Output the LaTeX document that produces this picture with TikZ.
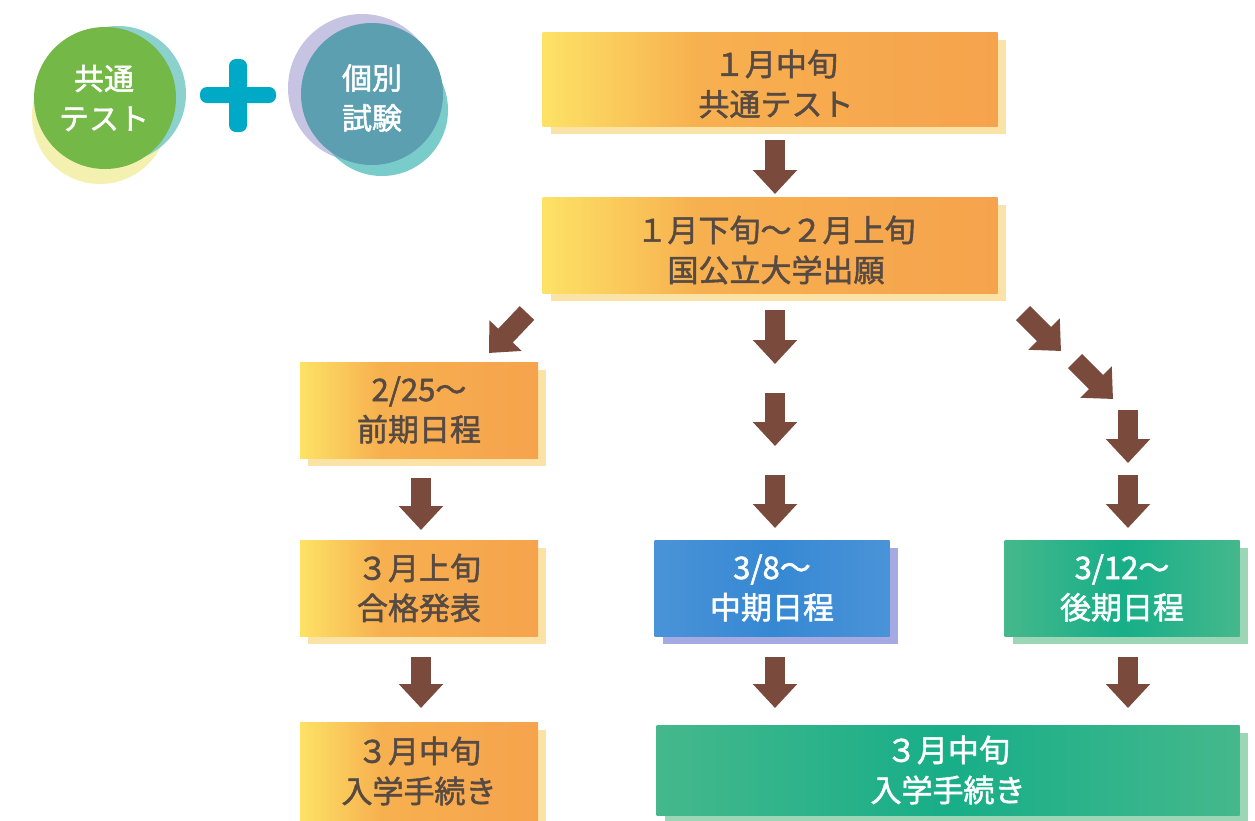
\documentclass[tikz,border=0pt]{standalone}
\usepackage{fontspec}
\setmainfont{Noto Sans CJK JP}
\newfontfamily\jpm{Noto Sans CJK JP}[FakeBold=1.6]
\usetikzlibrary{arrows.meta,shadows}
\definecolor{txtdark}{HTML}{574A42}
\definecolor{oy}{HTML}{FDE266}
\definecolor{om}{HTML}{F7B04F}
\definecolor{oo}{HTML}{F6A34D}
\definecolor{osh}{HTML}{FBE2A6}
\definecolor{bl}{HTML}{3688D3}
\definecolor{bll}{HTML}{4A93D8}
\definecolor{blsh}{HTML}{A5AAE2}
\definecolor{gr}{HTML}{17AE88}
\definecolor{grl}{HTML}{45B88C}
\definecolor{grsh}{HTML}{9DD6B6}
\definecolor{arrowc}{HTML}{7A4A3C}
\definecolor{plusc}{HTML}{00A9C6}
\definecolor{cgreen}{HTML}{74B848}
\definecolor{cteal}{HTML}{6FC5C2}
\definecolor{cyel}{HTML}{F1EE9C}
\definecolor{cblue}{HTML}{5C9FB1}
\definecolor{clav}{HTML}{B8B5DB}
\definecolor{cteal2}{HTML}{4DBBB8}
\pgfdeclarehorizontalshading{oshade}{100bp}{color(0bp)=(oy); color(25bp)=(oy); color(42bp)=(om); color(75bp)=(oo); color(100bp)=(oo)}
\pgfdeclarehorizontalshading{gshade}{100bp}{color(0bp)=(grl); color(25bp)=(grl); color(50bp)=(gr); color(75bp)=(grl); color(100bp)=(grl)}
\pgfdeclarehorizontalshading{bshade}{100bp}{color(0bp)=(bll); color(25bp)=(bll); color(50bp)=(bl); color(75bp)=(bll); color(100bp)=(bll)}
\newcommand\jpt{\jpm\fontsize{31}{40}\selectfont}
\newcommand\jpc{\jpm\fontsize{30}{40}\selectfont}
\begin{document}
\begin{tikzpicture}[x=1pt,y=-1pt,
  boxbase/.style={rectangle, inner sep=0pt, align=center, font=\jpt},
  obox/.style={boxbase, text=txtdark, shading=oshade,
    general shadow={shadow xshift=8pt, shadow yshift=-8pt, fill=osh}},
  bbox/.style={boxbase, text=white, shading=bshade,
    general shadow={shadow xshift=8pt, shadow yshift=-8pt, fill=blsh}},
  gbox/.style={boxbase, text=white, shading=gshade,
    general shadow={shadow xshift=8pt, shadow yshift=-8pt, fill=grsh}},
  btext/.style={align=center, text=txtdark, font=\jpt, inner sep=0pt},
  barrow/.style={draw=arrowc, line width=20pt, -{Triangle[width=43pt,length=24pt]}},
  ctext/.style={align=center, text=white, font=\jpc, inner sep=0pt}
]
\useasboundingbox (0,0) rectangle (1255,820);

% left circles
\fill[cyel, opacity=0.8] (100,116) circle[radius=68];
\fill[cteal, opacity=0.8] (118,94) circle[radius=68];
\fill[cgreen] (105,98) circle[radius=71];
\node[ctext] (c1) at (104,98) {共通\\テスト};

% plus
\fill[plusc, rounded corners=7pt] (200,87) rectangle (276,103);
\fill[plusc, rounded corners=7pt] (229,59) rectangle (247,132);

% right circles
\fill[clav, opacity=0.8] (362,88) circle[radius=74];
\fill[cteal2, opacity=0.75] (382,110) circle[radius=66];
\fill[cblue] (372,94) circle[radius=71];
\node[ctext] (c2) at (372,98) {個別\\試験};

% boxes
\node[obox, minimum width=455pt, minimum height=94pt] (t1) at (770,79) {};
\node[btext] (t1t) at (776,84) {１月中旬\\共通テスト};
\node[obox, minimum width=455pt, minimum height=96pt] (t2) at (770,245) {};
\node[btext] (t2t) at (776,250) {１月下旬～２月上旬\\国公立大学出願};
\node[obox, minimum width=238pt, minimum height=96pt] (f1) at (419,410) {2/25～\\前期日程};
\node[obox, minimum width=238pt, minimum height=96pt] (f2) at (419,588) {３月上旬\\合格発表};
\node[obox, minimum width=238pt, minimum height=98pt] (f3) at (419,771) {３月中旬\\入学手続き};
\node[bbox, minimum width=235pt, minimum height=96pt] (m1) at (772,588) {3/8～\\中期日程};
\node[gbox, minimum width=235pt, minimum height=96pt] (k1) at (1122,588) {3/12～\\後期日程};
\node[gbox, minimum width=583pt, minimum height=90pt] (e1) at (948,770) {３月中旬\\入学手続き};

% arrow coordinates
\coordinate (a1s) at (775,140); \coordinate (a1e) at (775,194);
\coordinate (l0s) at (527,313); \coordinate (l0e) at (489,353);
\coordinate (m0s) at (775,310); \coordinate (m0e) at (775,364);
\coordinate (m1s) at (775,393); \coordinate (m1e) at (775,446);
\coordinate (m2s) at (775,475); \coordinate (m2e) at (775,528);
\coordinate (r0s) at (1023,313); \coordinate (r0e) at (1061,351);
\coordinate (r1s) at (1075,361); \coordinate (r1e) at (1113,399);
\coordinate (r2s) at (1128,410); \coordinate (r2e) at (1128,463);
\coordinate (r3s) at (1128,475); \coordinate (r3e) at (1128,528);
\coordinate (l1s) at (421,478); \coordinate (l1e) at (421,530);
\coordinate (l2s) at (421,657); \coordinate (l2e) at (421,708);
\coordinate (m3s) at (775,657); \coordinate (m3e) at (775,708);
\coordinate (r4s) at (1128,657); \coordinate (r4e) at (1128,708);

\foreach \n in {a1,l0,m0,m1,m2,r0,r1,r2,r3,l1,l2,m3,r4}
  \draw[barrow] (\n s) -- (\n e);
\end{tikzpicture}
\end{document}
